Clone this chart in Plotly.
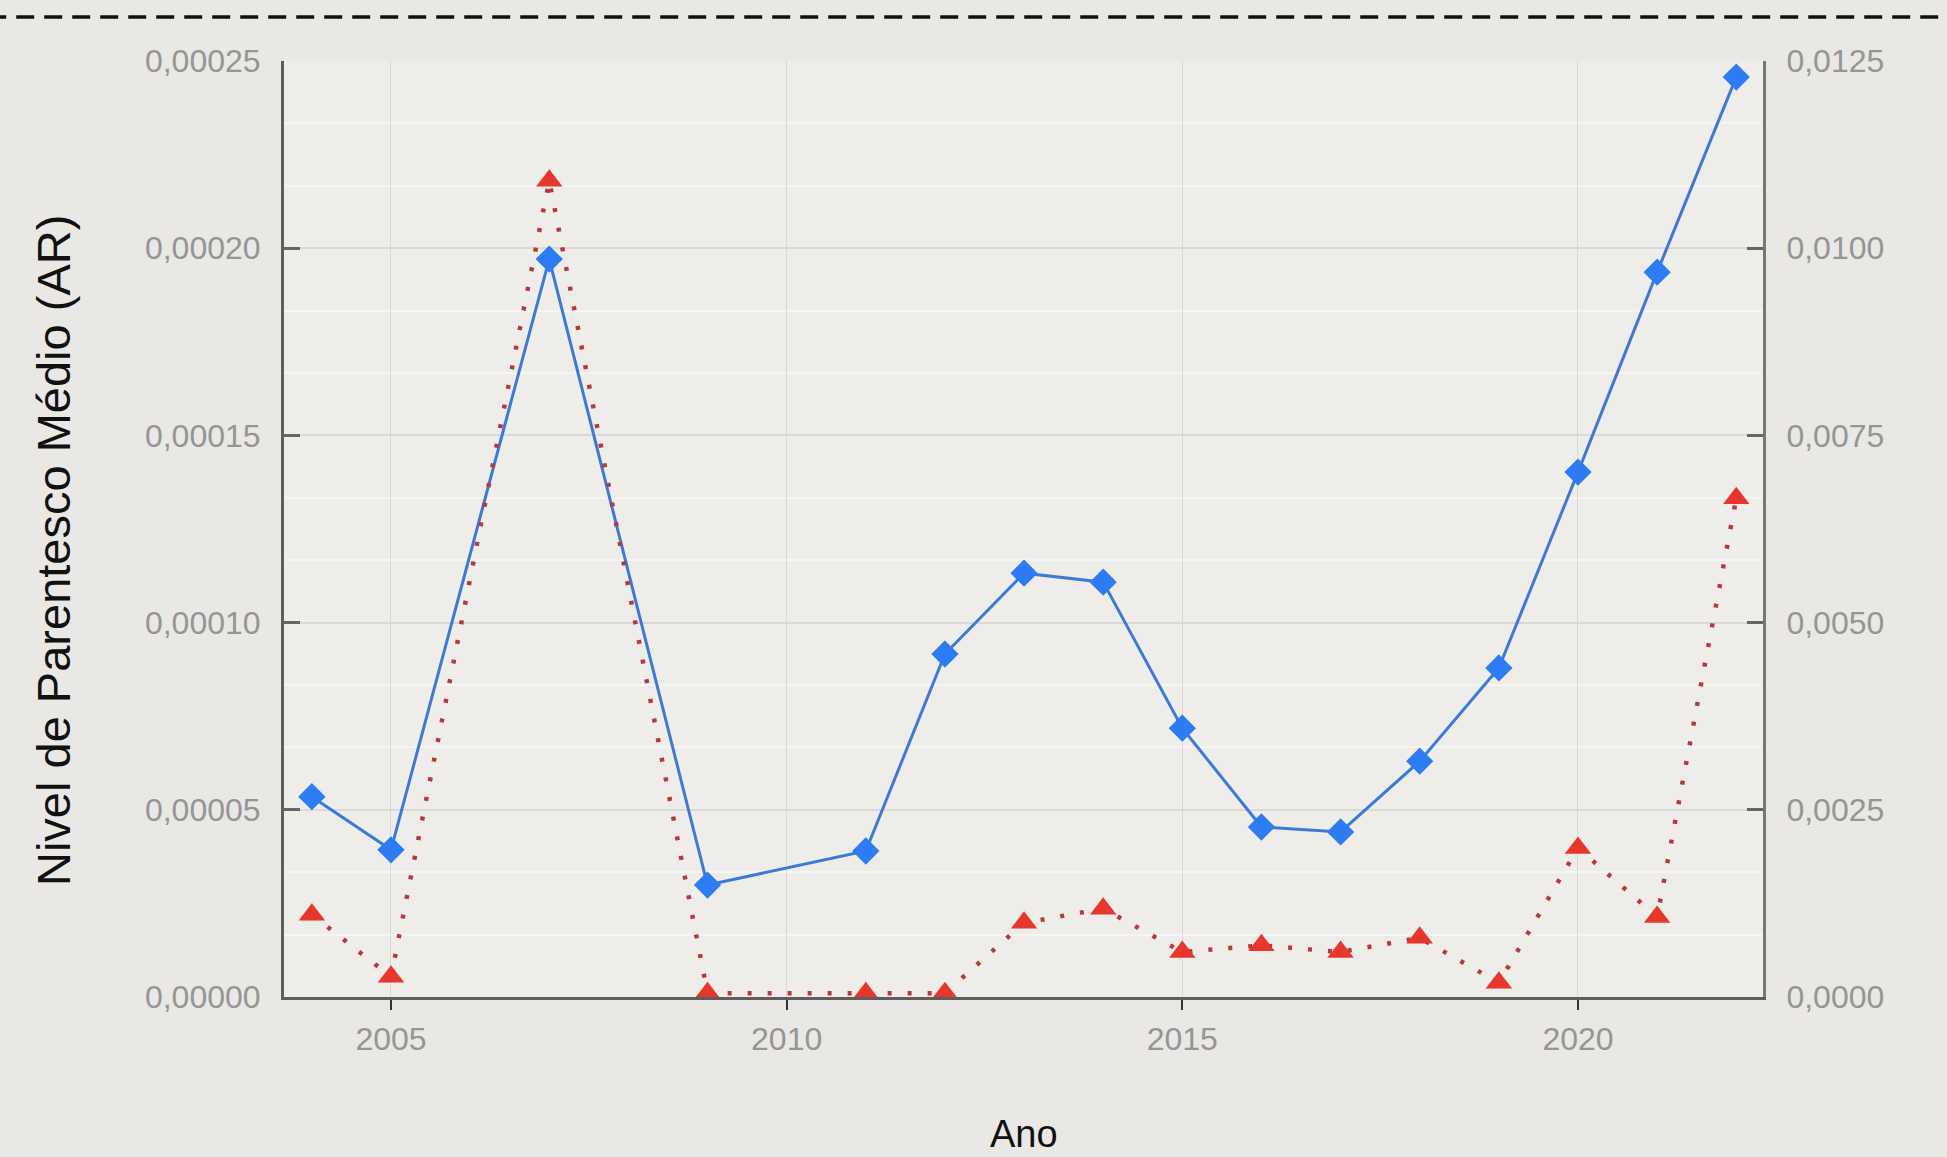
import plotly.graph_objects as go

# ---------------- data ----------------
years = [2004, 2005, 2007, 2009, 2011, 2012, 2013, 2014, 2015, 2016, 2017, 2018, 2019, 2020, 2021, 2022]
ar_values = [0.0000535, 0.0000393, 0.0001971, 0.0000299, 0.0000390, 0.0000916, 0.0001132, 0.0001108,
             0.0000718, 0.0000454, 0.0000441, 0.0000630, 0.0000879, 0.0001402, 0.0001936, 0.0002457]
f_values = [0.00110, 0.00027, 0.01090, 0.00005, 0.00005, 0.00005, 0.00099, 0.00118,
            0.00060, 0.00069, 0.00060, 0.00079, 0.00019, 0.00199, 0.00107, 0.00666]

x_tickvals = [2005, 2010, 2015, 2020]
x_ticktext = ["2005", "2010", "2015", "2020"]
y_tickvals = [0.0, 0.00005, 0.00010, 0.00015, 0.00020, 0.00025]
y_ticktext = ["0,00000", "0,00005", "0,00010", "0,00015", "0,00020", "0,00025"]
y2_tickvals = [0.0, 0.0025, 0.0050, 0.0075, 0.0100, 0.0125]
y2_ticktext = ["0,0000", "0,0025", "0,0050", "0,0075", "0,0100", "0,0125"]

x_title = "Ano"
y_title = "Nivel de Parentesco Médio (AR)"

# ---------------- figure ----------------
fig = go.Figure()

fig.add_trace(go.Scatter(
    x=years, y=ar_values, mode="lines+markers", yaxis="y",
    line=dict(color="#3d7ad8", width=3),
    marker=dict(symbol="diamond", size=21, color="#2d7cf4"),
    showlegend=False, cliponaxis=False,
))
fig.add_trace(go.Scatter(
    x=years, y=f_values, mode="lines+markers", yaxis="y2",
    line=dict(color="#b8393b", width=4.5, dash="4px,16px"),
    marker=dict(symbol="triangle-up", size=23, color="#e5372b"),
    showlegend=False, cliponaxis=False,
))

tick_font = dict(family="Liberation Sans, Arial, sans-serif", size=32, color="#959595")
title_font_family = "Liberation Sans, Arial, sans-serif"

fig.update_layout(
    width=1947, height=1157,
    margin=dict(l=284, r=184, t=61, b=160, autoexpand=False),
    paper_bgcolor="#e9e8e4",
    plot_bgcolor="#eeede9",
    xaxis=dict(
        range=[2003.648, 2022.338],
        tickvals=x_tickvals, ticktext=x_ticktext,
        tickfont=tick_font,
        showgrid=True, gridcolor="#d9d9d6", gridwidth=1,
        zeroline=False,
        showline=True, linecolor="#5e5e5e", linewidth=3,
        ticks="outside", ticklen=10, tickwidth=2, tickcolor="#333333",
        ticklabelstandoff=2,
        automargin=False,
    ),
    yaxis=dict(
        range=[0, 0.00025],
        tickvals=y_tickvals, ticktext=y_ticktext,
        tickfont=tick_font,
        showgrid=True, gridcolor="#d9d9d6", gridwidth=1.5,
        minor=dict(dtick=0.00005 / 3, tick0=0, showgrid=True, gridcolor="#f5f5f3", gridwidth=1.5),
        zeroline=False,
        showline=True, linecolor="#5e5e5e", linewidth=3,
        ticks="inside", ticklen=16, tickwidth=3, tickcolor="#666666",
        ticklabelstandoff=14,
        automargin=False,
    ),
    yaxis2=dict(
        range=[0, 0.0125],
        overlaying="y", side="right",
        tickvals=y2_tickvals, ticktext=y2_ticktext,
        tickfont=tick_font,
        showgrid=False, zeroline=False,
        showline=True, linecolor="#777777", linewidth=3,
        ticks="inside", ticklen=16, tickwidth=3, tickcolor="#666666",
        ticklabelstandoff=14,
        automargin=False,
    ),
    annotations=[
        dict(text=x_title, xref="paper", yref="paper", x=0.5, y=-0.1464,
             xanchor="center", yanchor="middle", showarrow=False,
             font=dict(family=title_font_family, size=38, color="#111111")),
        dict(text=y_title, xref="paper", yref="paper", x=-0.1555, y=0.4765,
             xanchor="center", yanchor="middle", textangle=-90, showarrow=False,
             font=dict(family=title_font_family, size=47, color="#111111")),
    ],
    shapes=[dict(
        type="line", xref="paper", yref="paper",
        x0=-0.2, x1=1.15, y0=1.047, y1=1.047,
        line=dict(color="#111111", width=3.5, dash="18px,10px"),
    )],
)

fig.write_html("out.html", config={"displayModeBar": False},
               post_script="document.body.style.margin='0';document.body.style.overflow='hidden';")
